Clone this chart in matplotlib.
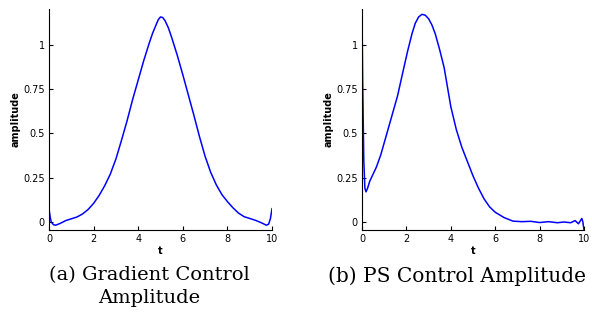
import matplotlib.pyplot as plt
import numpy as np

# Gradient control amplitude
t_grad = [0, 0.05, 0.1, 0.2, 0.3, 0.5, 0.75, 1.0, 1.25, 1.5, 1.75, 2.0, 2.25,
          2.5, 2.75, 3.0, 3.25, 3.5, 3.75, 4.0, 4.25, 4.5, 4.65, 4.8, 4.9, 5.0,
          5.1, 5.2, 5.35, 5.5, 5.75, 6.0, 6.25, 6.5, 6.75, 7.0, 7.25, 7.5, 7.75,
          8.0, 8.25, 8.5, 8.75, 9.0, 9.25, 9.5, 9.65, 9.75, 9.85, 9.93, 10.0]
amp_grad = [0.075, 0.03, 0.0, -0.015, -0.018, -0.008, 0.008, 0.018, 0.028,
            0.045, 0.07, 0.105, 0.15, 0.205, 0.27, 0.355, 0.46, 0.57, 0.69,
            0.80, 0.91, 1.01, 1.065, 1.11, 1.14, 1.155, 1.152, 1.135, 1.095,
            1.04, 0.94, 0.83, 0.715, 0.60, 0.48, 0.37, 0.28, 0.21, 0.155,
            0.115, 0.08, 0.05, 0.03, 0.02, 0.01, -0.003, -0.012, -0.018,
            -0.012, 0.02, 0.075]

# PS control amplitude
t_ps = [0, 0.03, 0.08, 0.13, 0.18, 0.25, 0.35, 0.5, 0.65, 0.85, 1.1, 1.35,
        1.6, 1.85, 2.05, 2.25, 2.4, 2.55, 2.7, 2.85, 3.0, 3.15, 3.3, 3.5, 3.7,
        4.0, 4.25, 4.5, 4.75, 5.0, 5.25, 5.5, 5.75, 6.0, 6.4, 6.8, 7.2, 7.6,
        8.0, 8.4, 8.8, 9.1, 9.4, 9.6, 9.75, 9.9, 9.95, 10.0]
amp_ps = [1.18, 0.8, 0.35, 0.19, 0.17, 0.19, 0.23, 0.27, 0.31, 0.38, 0.49,
          0.60, 0.71, 0.85, 0.96, 1.06, 1.12, 1.155, 1.17, 1.165, 1.145, 1.11,
          1.06, 0.97, 0.87, 0.65, 0.52, 0.42, 0.34, 0.26, 0.19, 0.13, 0.085,
          0.055, 0.025, 0.005, 0.002, 0.004, -0.003, 0.002, -0.004, 0.0,
          -0.004, 0.008, -0.01, 0.02, 0.0, -0.045]

captions = ["(a) Gradient Control\nAmplitude", "(b) PS Control Amplitude"]

fig = plt.figure(figsize=(5.92, 3.18), dpi=100)
ax1 = fig.add_axes([49 / 592, 1 - 230 / 318, 223 / 592, 221 / 318])
ax2 = fig.add_axes([362 / 592, 1 - 230 / 318, 222 / 592, 221 / 318])

for ax, t, a in [(ax1, t_grad, amp_grad), (ax2, t_ps, amp_ps)]:
    ax.plot(t, a, color="blue", lw=1.1)
    ax.set_xlim(0, 10)
    ax.set_ylim(-0.045, 1.2)
    ax.set_xticks([0, 2, 4, 6, 8, 10])
    ax.set_yticks([0, 0.25, 0.5, 0.75, 1])
    ax.set_yticklabels(["0", "0.25", "0.5", "0.75", "1"])
    ax.spines["top"].set_visible(False)
    ax.spines["right"].set_visible(False)
    ax.tick_params(direction="in", labelsize=7, length=3, pad=3)
    ax.set_xlabel("t", fontsize=7, fontweight="bold", labelpad=1)
    ax.set_ylabel("amplitude", fontsize=7, fontweight="bold", labelpad=2)

fig.text(149 / 592, 1 - 266 / 318, captions[0], fontsize=14, family="DejaVu Serif",
         ha="center", va="top", multialignment="center", linespacing=1.35)
fig.text(457 / 592, 1 - 266 / 318, captions[1], fontsize=14.5, family="DejaVu Serif",
         ha="center", va="top")

plt.savefig("out.png", dpi=100)
plt.close()
